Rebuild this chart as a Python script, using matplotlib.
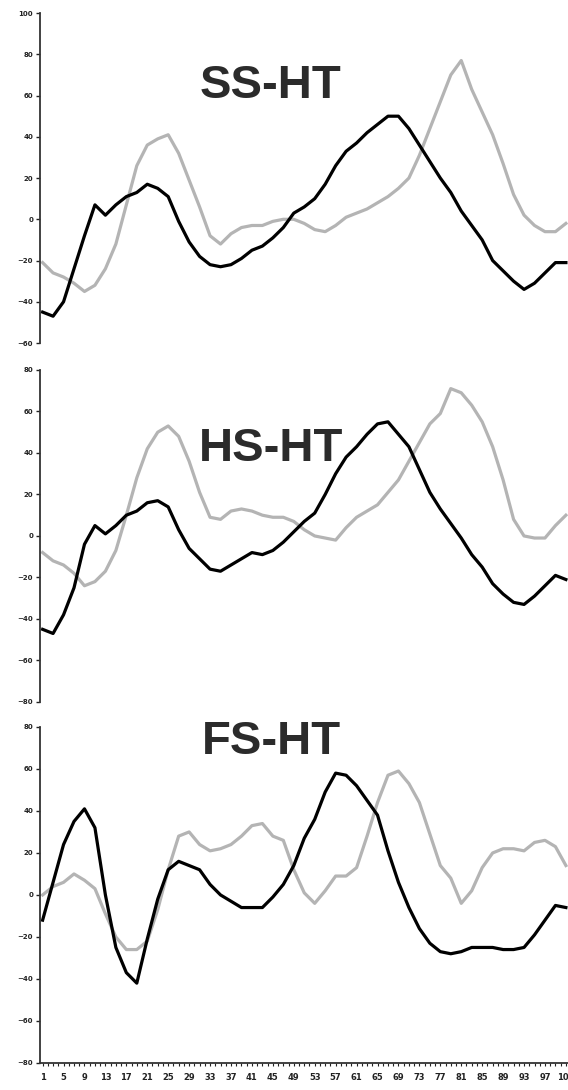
import matplotlib.pyplot as plt

# sample positions (every second category)
idx = list(range(1, 102, 2))

ss_black = [-45, -47, -40, -24, -8, 7, 2, 7, 11, 13,
            17, 15, 11, -1, -11, -18, -22, -23, -22, -19,
            -15, -13, -9, -4, 3, 6, 10, 17, 26, 33,
            37, 42, 46, 50, 50, 44, 36, 28, 20, 13,
            4, -3, -10, -20, -25, -30, -34, -31, -26, -21,
            -21]
ss_gray = [-21, -26, -28, -31, -35, -32, -24, -12, 7, 26,
           36, 39, 41, 32, 19, 6, -8, -12, -7, -4,
           -3, -3, -1, 0, 0, -2, -5, -6, -3, 1,
           3, 5, 8, 11, 15, 20, 31, 44, 57, 70,
           77, 63, 52, 41, 27, 12, 2, -3, -6, -6,
           -2]

hs_black = [-45, -47, -38, -25, -4, 5, 1, 5, 10, 12,
            16, 17, 14, 3, -6, -11, -16, -17, -14, -11,
            -8, -9, -7, -3, 2, 7, 11, 20, 30, 38,
            43, 49, 54, 55, 49, 43, 32, 21, 13, 6,
            -1, -9, -15, -23, -28, -32, -33, -29, -24, -19,
            -21]
hs_gray = [-8, -12, -14, -18, -24, -22, -17, -7, 10, 28,
           42, 50, 53, 48, 36, 21, 9, 8, 12, 13,
           12, 10, 9, 9, 7, 3, 0, -1, -2, 4,
           9, 12, 15, 21, 27, 36, 45, 54, 59, 71,
           69, 63, 55, 43, 27, 8, 0, -1, -1, 5,
           10]

fs_black = [-12, 6, 24, 35, 41, 32, 0, -25, -37, -42,
            -21, -2, 12, 16, 14, 12, 5, 0, -3, -6,
            -6, -6, -1, 5, 14, 27, 36, 49, 58, 57,
            52, 45, 38, 21, 6, -6, -16, -23, -27, -28,
            -27, -25, -25, -25, -26, -26, -25, -19, -12, -5,
            -6]
fs_gray = [0, 4, 6, 10, 7, 3, -9, -20, -26, -26,
           -22, -7, 12, 28, 30, 24, 21, 22, 24, 28,
           33, 34, 28, 26, 12, 1, -4, 2, 9, 9,
           13, 28, 44, 57, 59, 53, 44, 29, 14, 8,
           -4, 2, 13, 20, 22, 22, 21, 25, 26, 23,
           14]

titles = ['SS-HT', 'HS-HT', 'FS-HT']
ylims = [(-60, 100), (-80, 80), (-80, 80)]
x_labels = [str(i) if (i - 1) % 4 == 0 else '' for i in range(1, 102)]

black_series = [ss_black, hs_black, fs_black]
gray_series = [ss_gray, hs_gray, fs_gray]

# axes rectangles in figure fraction (left, bottom, width, height)
rects = [(0.0704, 0.6853, 0.9296, 0.3027),
         (0.0704, 0.3560, 0.9296, 0.3046),
         (0.0704, 0.0248, 0.9296, 0.3083)]
title_y = [1 - 86 / 1090, 1 - 449 / 1090, 1 - 742 / 1090]

fig = plt.figure(figsize=(5.68, 10.9), dpi=100)

for k in range(3):
    ax = fig.add_axes(rects[k])
    ax.plot(idx, gray_series[k], color='#b4b4b4', lw=2.3, solid_joinstyle='round')
    ax.plot(idx, black_series[k], color='black', lw=2.3, solid_joinstyle='round')
    ax.set_xlim(0.5, 101.4)
    lo, hi = ylims[k]
    ax.set_ylim(lo, hi)
    ax.set_yticks(range(lo, hi + 1, 20))
    ax.tick_params(axis='y', direction='out', length=3, width=1, pad=2,
                   labelsize=5, colors='#222222')
    for lab in ax.get_yticklabels():
        lab.set_fontweight('bold')
    for s in ['top', 'right']:
        ax.spines[s].set_visible(False)
    ax.spines['left'].set_linewidth(1.3)
    ax.spines['left'].set_color('#333333')
    if k < 2:
        ax.spines['bottom'].set_visible(False)
        ax.set_xticks([])
    else:
        ax.spines['bottom'].set_linewidth(1.3)
        ax.spines['bottom'].set_color('#333333')
        ax.set_xticks(range(1, 102))
        ax.set_xticklabels(x_labels)
        ax.tick_params(axis='x', direction='out', length=2.5, width=0.8, pad=5,
                       labelsize=6, colors='#222222')
        for lab in ax.get_xticklabels():
            lab.set_fontweight('bold')
    fig.text(271 / 568, title_y[k], titles[k], ha='center', va='center',
             fontsize=34, fontweight='bold', color='#2b2b2b',
             family='Liberation Sans')

fig.savefig('out.png', dpi=100)
